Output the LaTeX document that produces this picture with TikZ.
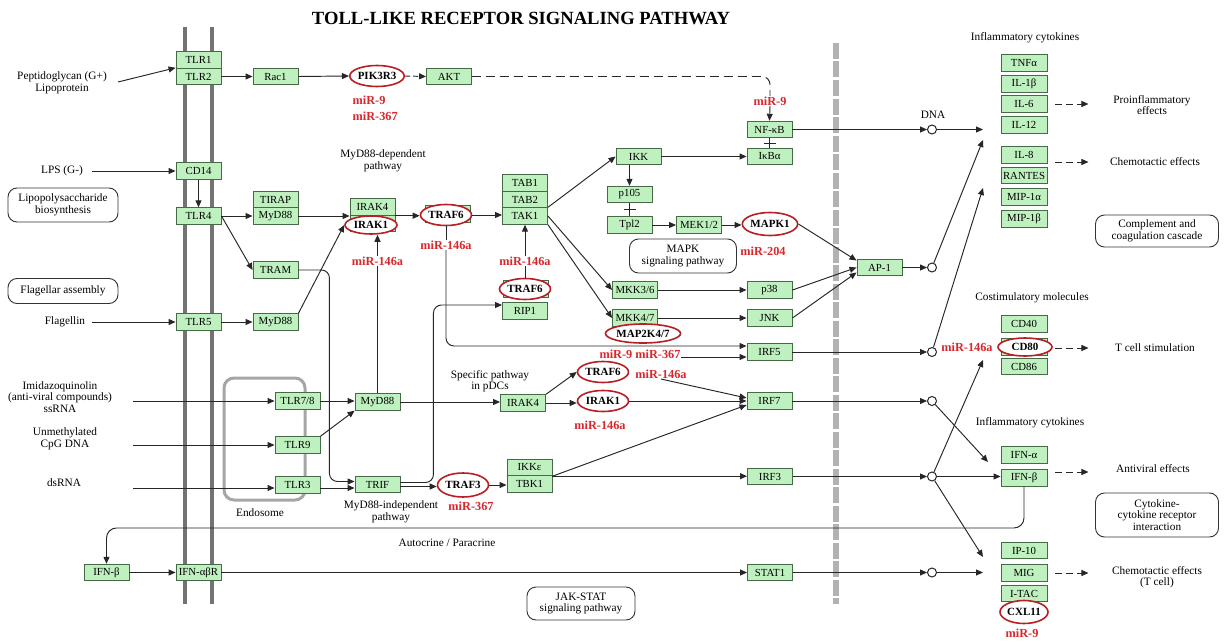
\documentclass[tikz,border=0pt]{standalone}
\usepackage{fontspec}
\setmainfont{Liberation Serif}
\usetikzlibrary{arrows.meta,shapes.geometric,calc}
\definecolor{gfill}{RGB}{191,240,191}
\definecolor{gline}{RGB}{70,105,70}
\definecolor{mred}{RGB}{215,40,45}
\definecolor{ered}{RGB}{185,30,35}
\definecolor{memb}{RGB}{115,115,115}
\definecolor{nucl}{RGB}{178,178,178}
\tikzset{
 gene/.style={draw=gline, fill=gfill, line width=0.9pt, minimum width=45pt, minimum height=16.5pt, inner sep=0pt, font=\fontsize{10.8}{11}\selectfont},
 rell/.style={ellipse, draw=ered, fill=white, line width=1.6pt, minimum width=51pt, minimum height=21pt, inner sep=0pt, font=\bfseries\fontsize{11}{12}\selectfont},
 mir/.style={text=mred, font=\bfseries\fontsize{12.3}{13}\selectfont, inner sep=0.5pt},
 lbl/.style={font=\fontsize{11.3}{11.5}\selectfont, align=center, inner sep=0pt},
 pway/.style={draw=black!80, rounded corners=9pt, line width=0.9pt, align=center, inner sep=0pt, font=\fontsize{11.3}{11.5}\selectfont},
 arr/.style={-{Triangle[length=7pt,width=6pt]}, line width=0.95pt, draw=black!85},
 ln/.style={line width=0.95pt, draw=black!85},
 dot/.style={circle, draw=black!85, fill=white, minimum size=9pt, inner sep=0pt, line width=1pt},
 effarr/.style={arr, dash pattern=on 7pt off 4pt},
}
\begin{document}
\begin{tikzpicture}[x=1pt,y=-1pt]
\fill[white] (0,0) rectangle (1224,642);
\useasboundingbox (0,0) rectangle (1224,642);

% membranes
\draw[memb, line width=3.5pt] (185,27) -- (185,604);
\draw[memb, line width=3.5pt] (212,27) -- (212,604);
\draw[nucl, line width=6pt, dash pattern=on 16pt off 2.5pt] (836,43) -- (836,604);
\draw[draw=black!35, line width=3pt, rounded corners=10pt] (224,378) rectangle (305,500);

% title
\node[font=\bfseries\fontsize{18.6}{20}\selectfont] (title) at (521,18) {TOLL-LIKE RECEPTOR SIGNALING PATHWAY};

% genes
\node[gene] (tlr1) at (198.5,60) {TLR1};
\node[gene] (tlr2) at (198.5,76.5) {TLR2};
\node[gene] (cd14) at (198.5,171) {CD14};
\node[gene] (tlr4) at (198.5,216) {TLR4};
\node[gene] (tlr5) at (198.5,322) {TLR5};
\node[gene] (rac1) at (275.5,76.5) {Rac1};
\node[gene] (tirap) at (275.5,199.5) {TIRAP};
\node[gene] (myda) at (275.5,216) {MyD88};
\node[gene] (tram) at (275.5,270) {TRAM};
\node[gene] (mydb) at (275.5,322) {MyD88};
\node[gene] (tlr78) at (297.5,401) {TLR7/8};
\node[gene] (tlr9) at (297.5,445) {TLR9};
\node[gene] (tlr3) at (297.5,485) {TLR3};
\node[gene] (mydc) at (377.5,402) {MyD88};
\node[gene] (trif) at (377.5,484.5) {TRIF};
\node[gene] (irak4a) at (372.5,207) {IRAK4};
\node[gene] (irak1box) at (372.5,223.5) {};
\node[rell, minimum width=52pt, minimum height=18pt] (irak1a) at (371,225) {IRAK1};
\node[gene] (traf6abox) at (448,214) {};
\node[rell] (traf6a) at (446,215) {TRAF6};
\node[rell, minimum width=53pt] (pik3r3) at (377,76) {PIK3R3};
\node[gene] (akt) at (449,76.5) {AKT};
\node[gene] (tab1) at (525,183) {TAB1};
\node[gene] (tab2) at (525,199.5) {TAB2};
\node[gene] (tak1) at (525,216) {TAK1};
\node[gene] (traf6cbox) at (526,289) {};
\node[rell] (traf6c) at (525,289) {TRAF6};
\node[gene] (rip1) at (525,311) {RIP1};
\node[gene] (irak4b) at (523,403) {IRAK4};
\node[rell] (traf6b) at (603,372) {TRAF6};
\node[rell] (irak1b) at (603,401) {IRAK1};
\node[gene] (ikke) at (529.5,467.5) {IKKε};
\node[gene] (tbk1) at (529.5,484) {TBK1};
\node[rell, minimum height=24pt] (traf3) at (463,485) {TRAF3};
\node[gene] (ikk) at (638.5,156.5) {IKK};
\node[gene] (p105) at (629.5,194.5) {p105};
\node[gene] (tpl2) at (629.5,225) {Tpl2};
\node[gene] (mek) at (699,225) {MEK1/2};
\node[rell, minimum height=23pt] (mapk1) at (770,224) {MAPK1};
\node[gene] (mkk36) at (635,290) {MKK3/6};
\node[gene] (mkk47) at (635,318) {MKK4/7};
\node[rell, minimum width=71pt, minimum height=19pt] (map2k) at (643,333.5) {MAP2K4/7};
\node[gene] (nfkb) at (769.5,129.5) {NF-κB};
\node[gene] (ikba) at (769.5,156.5) {IκBα};
\node[gene] (p38) at (769.5,290) {p38};
\node[gene] (jnk) at (769.5,318) {JNK};
\node[gene] (irf5) at (769.5,352) {IRF5};
\node[gene] (irf7) at (769.5,401) {IRF7};
\node[gene] (irf3) at (770,476.5) {IRF3};
\node[gene] (stat1) at (770,572.5) {STAT1};
\node[gene] (ap1) at (879.5,267.5) {AP-1};
\node[gene] (ifnbl) at (106.5,572.5) {IFN-β};
\node[gene] (ifnabr) at (198.5,572.5) {IFN-αβR};

% right column
\node[gene, minimum width=46pt] (tnfa) at (1024,63) {TNFα};
\node[gene, minimum width=46pt] (il1b) at (1024,84) {IL-1β};
\node[gene, minimum width=46pt] (il6) at (1024,104) {IL-6};
\node[gene, minimum width=46pt] (il12) at (1024,125) {IL-12};
\node[gene, minimum width=46pt] (il8) at (1024,155) {IL-8};
\node[gene, minimum width=46pt] (rantes) at (1024,175.5) {RANTES};
\node[gene, minimum width=46pt] (mip1a) at (1024,197) {MIP-1α};
\node[gene, minimum width=46pt] (mip1b) at (1024,219) {MIP-1β};
\node[gene, minimum width=46pt] (cd40) at (1024,324) {CD40};
\node[gene, minimum width=46pt] (cd80box) at (1024,347) {};
\node[rell, minimum width=54pt, minimum height=18pt] (cd80) at (1025,347) {CD80};
\node[gene, minimum width=46pt] (cd86) at (1024,366.5) {CD86};
\node[gene, minimum width=46pt] (ifna) at (1024,455) {IFN-α};
\node[gene, minimum width=46pt] (ifnbr) at (1024,478) {IFN-β};
\node[gene, minimum width=46pt] (ip10) at (1024,550.5) {IP-10};
\node[gene, minimum width=46pt] (mig) at (1024,573) {MIG};
\node[gene, minimum width=46pt] (itac) at (1024,593.5) {I-TAC};
\node[rell, minimum width=48pt, minimum height=23pt] (cxl11) at (1024,612) {CXL11};

% labels
\node[lbl] (pgl) at (62,83) {Peptidoglycan (G+)\\Lipoprotein};
\node[lbl] (lpsl) at (62,171) {LPS (G-)};
\node[pway, minimum width=110pt, minimum height=34pt] (lpsb) at (63,205) {Lipopolysaccharide\\biosynthesis};
\node[pway, minimum width=110pt, minimum height=25pt] (flgb) at (63,291) {Flagellar assembly};
\node[lbl] (flgl) at (65,322) {Flagellin};
\node[lbl] (imql) at (60,397) {Imidazoquinolin\\(anti-viral compounds)\\ssRNA};
\node[lbl] (cpgl) at (65,439) {Unmethylated\\CpG DNA};
\node[lbl] (dsrl) at (64,483) {dsRNA};
\node[lbl] (endo) at (260,513) {Endosome};
\node[lbl] (mdp) at (383,161) {MyD88-dependent\\pathway};
\node[lbl] (pdc) at (490,381) {Specific pathway\\in pDCs};
\node[lbl] (mip) at (391,512) {MyD88-independent\\pathway};
\node[lbl] (autol) at (447,543) {Autocrine / Paracrine};
\node[pway, minimum width=107pt, minimum height=34pt] (mapkp) at (683,256) {MAPK\\signaling pathway};
\node[pway, minimum width=108pt, minimum height=33pt] (jak) at (581,603.5) {JAK-STAT\\signaling pathway};
\node[lbl] (dnal) at (933,115) {DNA};
\node[lbl] (infl1) at (1025,38) {Inflammatory cytokines};
\node[lbl] (proinf) at (1152,105) {Proinflammatory\\effects};
\node[lbl] (chem1) at (1155,162) {Chemotactic effects};
\node[pway, minimum width=123pt, minimum height=32pt] (compl) at (1157,231) {Complement and\\coagulation cascade};
\node[lbl] (costim) at (1032,298) {Costimulatory molecules};
\node[lbl] (tcell) at (1155,348) {T cell stimulation};
\node[lbl] (infl2) at (1030,423) {Inflammatory cytokines};
\node[lbl] (antiv) at (1153,469) {Antiviral effects};
\node[pway, minimum width=123pt, minimum height=44pt] (cytok) at (1157,515) {Cytokine-\\cytokine receptor\\interaction};
\node[lbl] (chem2) at (1157,577) {Chemotactic effects\\(T cell)};

% miRNAs
\node[mir, anchor=west] (m1) at (352,100) {miR-9};
\node[mir, anchor=west] (m2) at (352,116) {miR-367};
\node[mir] (m3) at (770,101) {miR-9};
\node[mir] (m4) at (377.5,261) {miR-146a};
\node[mir] (m5) at (446,245) {miR-146a};
\node[mir] (m6) at (525,261) {miR-146a};
\node[mir] (m7) at (763,251) {miR-204};
\node[mir] (m8) at (640,354) {miR-9 miR-367};
\node[mir] (m9) at (661,374) {miR-146a};
\node[mir] (m10) at (600,425) {miR-146a};
\node[mir] (m11) at (471,506) {miR-367};
\node[mir] (m12) at (967,347) {miR-146a};
\node[mir] (m13) at (1022,633) {miR-9};

% small circles (gene expression)
\node[dot] (c1) at (932,129.5) {};
\node[dot] (c2) at (932,267.5) {};
\node[dot] (c3) at (932,352) {};
\node[dot] (c4) at (932,401) {};
\node[dot] (c5) at (932,476.5) {};
\node[dot] (c6) at (932,572.5) {};

% free ends
\coordinate (pgs) at (118,82);
\coordinate (lpss) at (92,171);
\coordinate (flgs) at (92,322);
\coordinate (imqs) at (133,401);
\coordinate (cpgs) at (133,445);
\coordinate (dsrs) at (133,488);
\coordinate (t1) at (983,129.5);
\coordinate (t2) at (983,140);
\coordinate (t3) at (983,188);
\coordinate (t4) at (988,462);
\coordinate (t5) at (983,360);
\coordinate (t6) at (983,557);
\coordinate (t7) at (983,572.5);
\coordinate (loop) at (600,528);

% connectors
\draw[arr] (pgs) -- (tlr2.north west);
\draw[arr] (lpss) -- (cd14.west);
\draw[arr] (cd14.south) -- (tlr4.north);
\draw[arr] (flgs) -- (tlr5.west);
\draw[arr] (imqs) -- (tlr78.west);
\draw[arr] (cpgs) -- (tlr9.west);
\draw[arr] (dsrs) -- (dsrs -| tlr3.west);
\draw[arr] (tlr2.east) -- (rac1.west);
\draw[arr] (rac1.east) -- (pik3r3.west);
\draw[arr, dash pattern=on 5pt off 3pt] (pik3r3.east) -- (akt.west);
\draw[ln, dash pattern=on 9pt off 5pt, rounded corners=8pt] (akt.east) -| (m3.north);
\draw[arr] (m3.south) -- (nfkb.north);
\draw[arr] (tlr4.east) -- (myda.west);
\draw[arr] (tlr4.east) -- (tram.west);
\draw[arr] (tlr5.east) -- (mydb.west);
\draw[arr] (myda.east) -- (myda.east -| irak4a.west);
\draw[arr] (mydb.north east) -- (irak1a.west);
\draw[arr, rounded corners=8pt] (tram.east) -- ++(31,0) |- ([yshift=3pt]trif.west);
\draw[arr] ([yshift=-3pt]tlr3.east) -- ([yshift=-3pt]tlr3.east -| trif.west);
\draw[arr] (tlr78.east) -- (tlr78.east -| mydc.west);
\draw[arr] (tlr9.north east) -- (mydc.south west);
\draw[ln] (mydc.north) -- (mydc.north |- m4.south);
\draw[arr] (mydc.north |- m4.north) -- (mydc.north |- irak1a.south);
\draw[arr] (irak4a.south east) -- (irak4a.south east -| traf6a.west);
\draw[arr] (traf6a.east) -- (traf6a.east -| tak1.west);
\draw[ln] (traf6a.south) -- (m5.north);
\draw[arr, rounded corners=8pt] (m5.south) |- ([yshift=6pt]irf5.west);
\draw[arr] (tak1.north east) -- (ikk.west);
\draw[arr] (tak1.east) -- (mkk36.west);
\draw[arr] (tak1.south east) -- (mkk47.west);
\draw[ln] (traf6c.north) -- (m6.south);
\draw[arr] (m6.north) -- (tak1.south);
\draw[arr, rounded corners=8pt] ([yshift=2pt]trif.east) -- ++(33,0) |- ([yshift=6pt]rip1.west);
\draw[arr] ([yshift=-2pt]trif.east) -- ([yshift=-2pt]trif.east -| traf3.west);
\draw[arr] (traf3.east) -- (traf3.east -| tbk1.west);
\draw[arr] (ikke.south east) -- (ikke.south east -| irf3.west);
\draw[arr] (ikke.south east) -- ([yshift=-4pt]irf7.west);
\draw[arr] (mydc.east) -- (mydc.east -| irak4b.west);
\draw[arr] (irak4b.north east) -- (traf6b.west);
\draw[arr] (irak4b.east) -- (irak4b.east -| irak1b.west);
\draw[arr] (m9.south) -- ([yshift=3pt]irf7.west);
\draw[arr] (irak1b.east) -- (irak1b.east -| irf7.west);
\draw[arr] ([yshift=-3pt]m8.east) -- ([yshift=-5pt]irf5.west);
\draw[arr] (ikk.south -| p105.north) -- (p105.north);
\draw[arr] (ikk.east) -- (ikk.east -| ikba.west);
\draw[ln] (ikba.north) -- (nfkb.south) ($(ikba.north)!0.5!(nfkb.south)+(-6,0)$) -- +(12,0);
\draw[ln] (p105.south) -- (tpl2.north) ($(p105.south)!0.5!(tpl2.north)+(-6,0)$) -- +(12,0);
\draw[arr] (tpl2.east) -- (mek.west);
\draw[arr] (mek.east) -- (mek.east -| mapk1.west);
\draw[arr] (mapk1.east) -- ([yshift=7pt]ap1.west);
\draw[arr] (p38.east) -- (ap1.west);
\draw[arr] (jnk.east) -- ([yshift=-5pt]ap1.west);
\draw[arr] (mkk36.east) -- (mkk36.east -| p38.west);
\draw[arr] (mkk47.east) -- (mkk47.east -| jnk.west);
\draw[arr] (nfkb.east) -- (c1.west);
\draw[arr] (c1.east) -- (t1);
\draw[arr] (ap1.east) -- (c2.west);
\draw[arr] (c2) -- (t2);
\draw[arr] (irf5.east) -- (c3.west);
\draw[arr] (c3) -- (t3);
\draw[arr] (irf7.east) -- (c4.west);
\draw[arr] (c4) -- (t4);
\draw[arr] (irf3.east) -- (c5.west);
\draw[arr] (c5.east) -- (c5.east -| ifnbr.west);
\draw[arr] (c5) -- (t5);
\draw[arr] (c5) -- (t6);
\draw[arr] (stat1.east) -- (c6.west);
\draw[arr] (c6.east) -- (t7);
\draw[arr, rounded corners=10pt] (ifnbr.south) |- (loop) -| (ifnbl.north);
\draw[arr] (ifnbl.east) -- (ifnabr.west);
\draw[arr] (ifnabr.east) -- (stat1.west);

% effects
\draw[effarr] ([xshift=8pt]il6.east) -- ++(33,0);
\draw[effarr] ([xshift=8pt,yshift=-7pt]il8.east) -- ++(33,0);
\draw[effarr] ([xshift=8pt,yshift=-1pt]cd80box.east) -- ++(33,0);
\draw[effarr] ([xshift=8pt,yshift=6pt]ifnbr.east) -- ++(33,0);
\draw[effarr] ([xshift=8pt]mig.east) -- ++(33,0);
\end{tikzpicture}
\end{document}
